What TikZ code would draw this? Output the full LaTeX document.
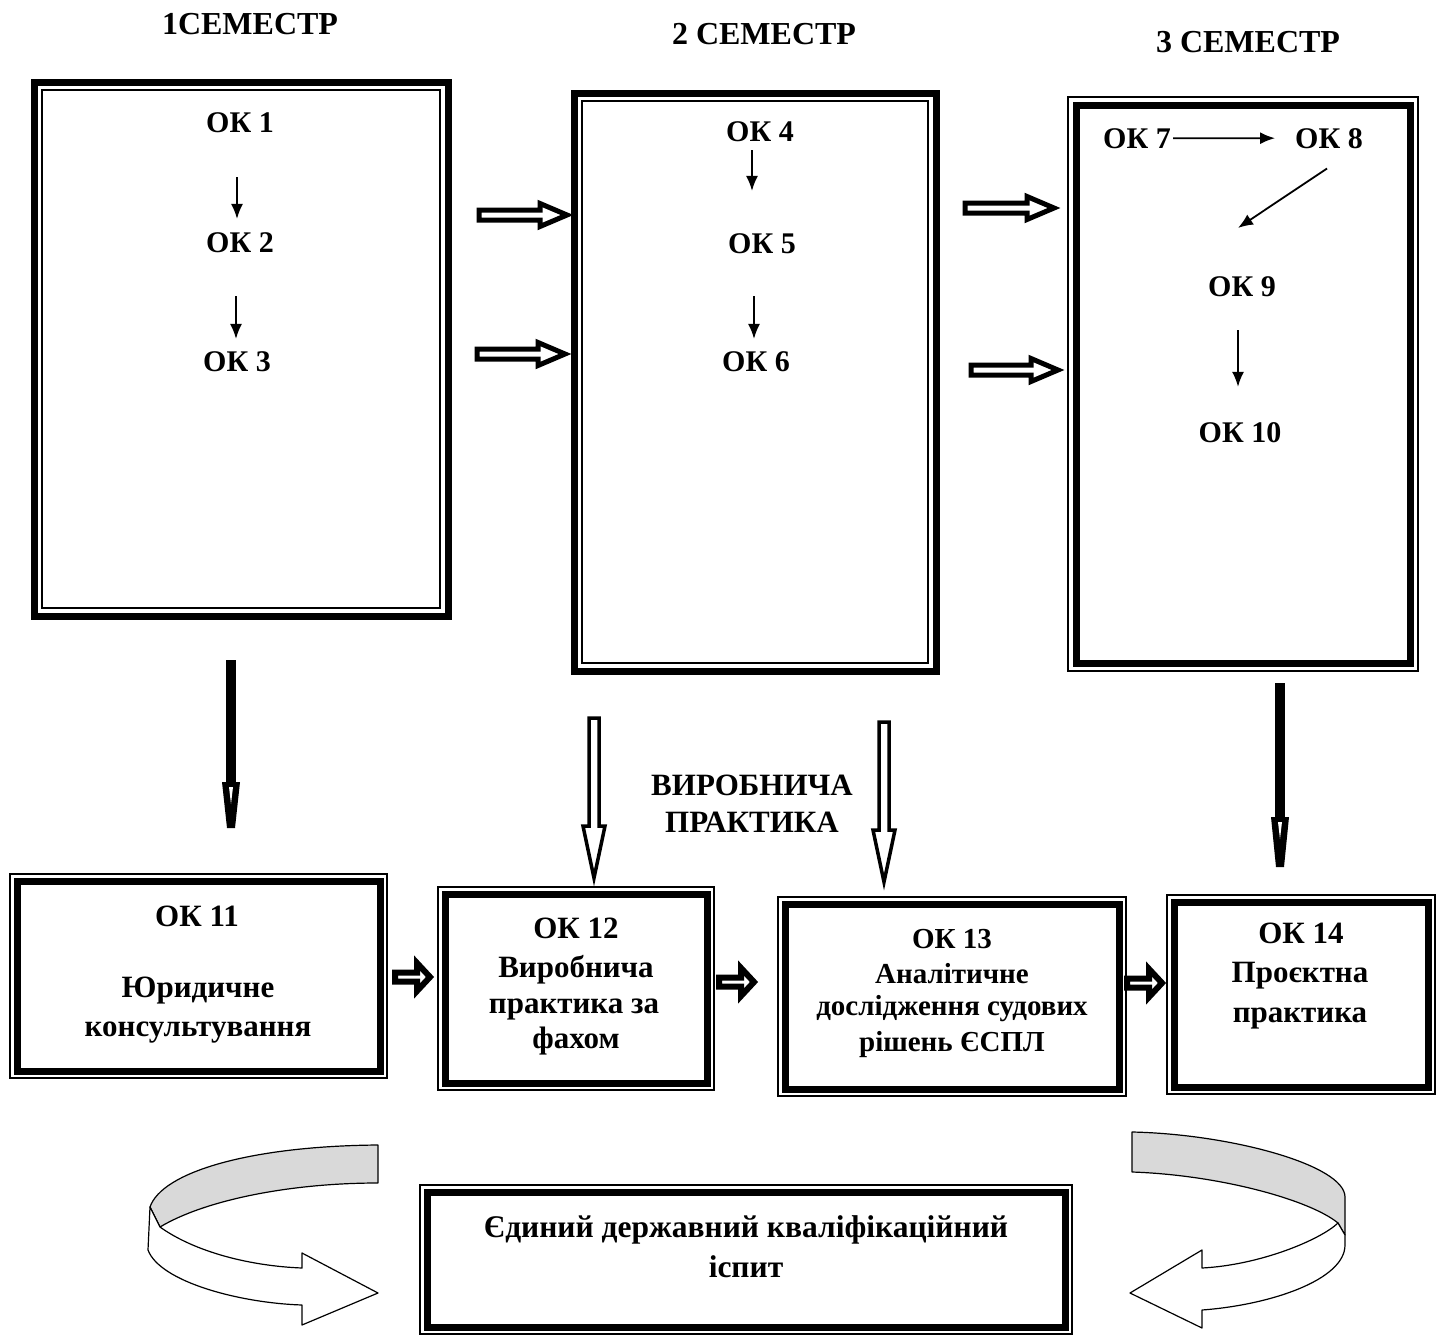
\documentclass[tikz,border=0pt]{standalone}
\usepackage{fontspec}
\setmainfont{Liberation Serif}
\usetikzlibrary{arrows.meta,fit}
\newcommand\szT{\fontsize{32}{38}\selectfont\bfseries}
\newcommand\szA{\fontsize{30}{36}\selectfont\bfseries}
\newcommand\szB{\fontsize{31}{37}\selectfont\bfseries}
\newcommand\szC{\fontsize{29}{35}\selectfont\bfseries}
\newcommand\szE{\fontsize{31.5}{37}\selectfont\bfseries}
\newcommand\innerthin[2]{\draw[thinL] ([shift={(#2,-#2)}]#1.north west) rectangle ([shift={(-#2,#2)}]#1.south east);}
\newcommand\outerthin[2]{\draw[thinL] ([shift={(-#2,#2)}]#1.north west) rectangle ([shift={(#2,-#2)}]#1.south east);}
% hollow arrow to the right: x0 y L s H a lw
\newcommand\hArrR[7]{\draw[hol, line width=#7] (#1,#2) ++(0,-#4) -- ++(#3-#6,0) -- ++(0,#4-#5) -- ++(#6,#5) -- ++(-#6,#5) -- ++(0,#4-#5) -- ++(-#3+#6,0) -- cycle;}
% hollow arrow downwards: x y0 L s H a lw
\newcommand\vArrD[7]{\draw[hol, line width=#7] (#1,#2) ++(-#4,0) -- ++(0,#3-#6) -- ++(#4-#5,0) -- ++(#5,#6) -- ++(#5,-#6) -- ++(#4-#5,0) -- ++(0,-#3+#6) -- cycle;}
% black arrow downwards: x y0 yhead y1
\newcommand\blackArr[4]{\fill (#1-5,#2) rectangle (#1+5,#3+1);
\fill (#1-9,#3) -- (#1+9,#3) -- (#1+4,#4) -- (#1-4,#4) -- cycle;
\fill[white] (#1-2,#3+5) -- (#1+2,#3+5) -- (#1,#3+22) -- cycle;}
\tikzset{
  thinL/.style={line width=1.6pt},
  frameK/.style={draw, line width=7pt, inner sep=0pt, outer sep=0pt},
  hol/.style={draw, fill=white, line join=miter},
  ttl/.style={font=\szT, anchor=base, inner sep=0pt},
  tA/.style={font=\szA, anchor=base, inner sep=0pt},
  tB/.style={font=\szB, anchor=base, inner sep=0pt},
  tC/.style={font=\szC, anchor=base, inner sep=0pt},
  tE/.style={font=\szE, anchor=base, inner sep=0pt},
  sarr/.style={line width=1.8pt, -{Latex[length=15pt,width=12pt]}},
  ribbon/.style={draw, line width=1.2pt, line join=round}
}
\begin{document}
\begin{tikzpicture}[x=1pt,y=-1pt]
\useasboundingbox (0,0) rectangle (1444,1336);
\fill[white] (0,0) rectangle (1444,1336);

% titles
\node[ttl] (s1) at (250,34) {1СЕМЕСТР};
\node[ttl] (s2) at (764,44) {2 СЕМЕСТР};
\node[ttl] (s3) at (1248,52) {3 СЕМЕСТР};

% semester boxes
\node[frameK, fit={(34,82) (448,616)}] (b1) {};
\innerthin{b1}{8pt}
\node[frameK, fit={(574,93) (936,671)}] (b2) {};
\innerthin{b2}{8pt}
\node[frameK, fit={(1076,105) (1410,663)}] (b3) {};
\outerthin{b3}{8pt}

% box 1 contents
\node[tA] (k1) at (240,132) {ОК 1};
\node[tA] (k2) at (240,252) {ОК 2};
\node[tA] (k3) at (237,371) {ОК 3};
\draw[sarr, shorten <=45pt, shorten >=13pt] ([xshift=-3pt]k1.south) -- ([xshift=-3pt]k2.north);
\draw[sarr, shorten <=44pt, shorten >=12pt] ([xshift=-4pt]k2.south) -- ([xshift=-1pt]k3.north);

% box 2 contents
\node[tA] (k4) at (760,141) {ОК 4};
\node[tA] (k5) at (762,253) {ОК 5};
\node[tA] (k6) at (756,371) {ОК 6};
\draw[sarr, shorten <=9pt, shorten >=42pt] ([xshift=-8pt]k4.south) -- ([xshift=-10pt]k5.north);
\draw[sarr, shorten <=43pt, shorten >=12pt] ([xshift=-8pt]k5.south) -- ([xshift=-2pt]k6.north);

% box 3 contents
\node[tA] (k7) at (1137,148) {ОК 7};
\node[tA] (k8) at (1329,148) {ОК 8};
\node[tA] (k9) at (1242,296) {ОК 9};
\node[tA] (k10) at (1240,442) {ОК 10};
\draw[sarr, shorten <=2pt, shorten >=20pt] (k7.east) -- (k8.west);
\draw[sarr] ([shift={(-2pt,-20pt)}]k8.south) -- ([shift={(-4pt,48pt)}]k9.north);
\draw[sarr, shorten <=34pt, shorten >=35pt] ([xshift=-4pt]k9.south) -- ([xshift=-2pt]k10.north);

% arrows between semester boxes
\hArrR{479}{215}{88}{5}{11.5}{27}{5pt}
\hArrR{477}{354}{88}{5}{11.5}{27}{5pt}
\hArrR{965}{208}{89}{5}{11.5}{27}{5pt}
\hArrR{971}{370}{87}{5}{11.5}{27}{5pt}

% vertical arrows
\blackArr{231}{660}{782}{828}
\blackArr{1280}{683}{817}{867}
\vArrD{594}{718}{160}{5}{11}{52}{3.5pt}
\vArrD{884}{722}{160}{5}{11}{52}{3.5pt}

\node[tB] (vp1) at (752,795) {ВИРОБНИЧА};
\node[tB] (vp2) at (752,832) {ПРАКТИКА};

% bottom boxes
\node[frameK, fit={(17,881) (380,1071)}] (c11) {};
\outerthin{c11}{7pt}
\node[frameK, fit={(445,894) (707,1083)}] (c12) {};
\outerthin{c12}{7pt}
\node[frameK, fit={(785,904) (1119,1089)}] (c13) {};
\outerthin{c13}{7pt}
\node[frameK, fit={(1174,902) (1428,1087)}] (c14) {};
\outerthin{c14}{7pt}
\node[frameK, fit={(427,1192) (1065,1327)}] (ex) {};
\outerthin{ex}{7pt}

\node[tB] (t11a) at (197,926) {ОК 11};
\node[tB] (t11b) at (198,997) {Юридичне};
\node[tB] (t11c) at (198,1036) {консультування};

\node[tB] (t12a) at (576,938) {ОК 12};
\node[tB] (t12b) at (576,977) {Виробнича};
\node[tB] (t12c) at (574,1013) {практика за};
\node[tB] (t12d) at (576,1048) {фахом};

\node[tC] (t13a) at (952,948) {ОК 13};
\node[tC] (t13b) at (952,983) {Аналітичне};
\node[tC] (t13c) at (952,1015) {дослідження судових};
\node[tC] (t13d) at (952,1051) {рішень ЄСПЛ};

\node[tB] (t14a) at (1301,943) {ОК 14};
\node[tB] (t14b) at (1300,982) {Проєктна};
\node[tB] (t14c) at (1300,1022) {практика};

\node[tE] (exa) at (746,1237) {Єдиний державний кваліфікаційний};
\node[tE] (exb) at (746,1277) {іспит};

% small arrows between bottom boxes
\hArrR{395}{977}{35}{4.5}{14}{13}{6pt}
\hArrR{719}{982}{35}{4.5}{14}{13}{6pt}
\hArrR{1127}{983}{35}{4.5}{14}{13}{6pt}

% left ribbon arrow
\draw[ribbon, fill=gray!30] (378,1145) .. controls (250,1146) and (162,1172) .. (150,1207) -- (160,1227) .. controls (205,1200) and (290,1183) .. (378,1183) -- cycle;
\draw[ribbon, fill=white] (150,1207) -- (148,1250) .. controls (160,1282) and (240,1303) .. (302,1305) -- (302,1325) -- (378,1293) -- (302,1253) -- (302,1268) .. controls (250,1266) and (195,1252) .. (160,1227) -- cycle;

% right ribbon arrow
\draw[ribbon, fill=gray!30] (1132,1132) .. controls (1230,1134) and (1345,1165) .. (1345,1197) -- (1345,1235) -- (1338,1223) .. controls (1310,1200) and (1220,1175) .. (1132,1172) -- cycle;
\draw[ribbon, fill=white] (1338,1223) .. controls (1320,1240) and (1260,1265) .. (1202,1268) -- (1202,1250) -- (1130,1293) -- (1202,1328) -- (1202,1310) .. controls (1270,1305) and (1345,1280) .. (1345,1245) -- (1345,1235) -- cycle;
\end{tikzpicture}
\end{document}
